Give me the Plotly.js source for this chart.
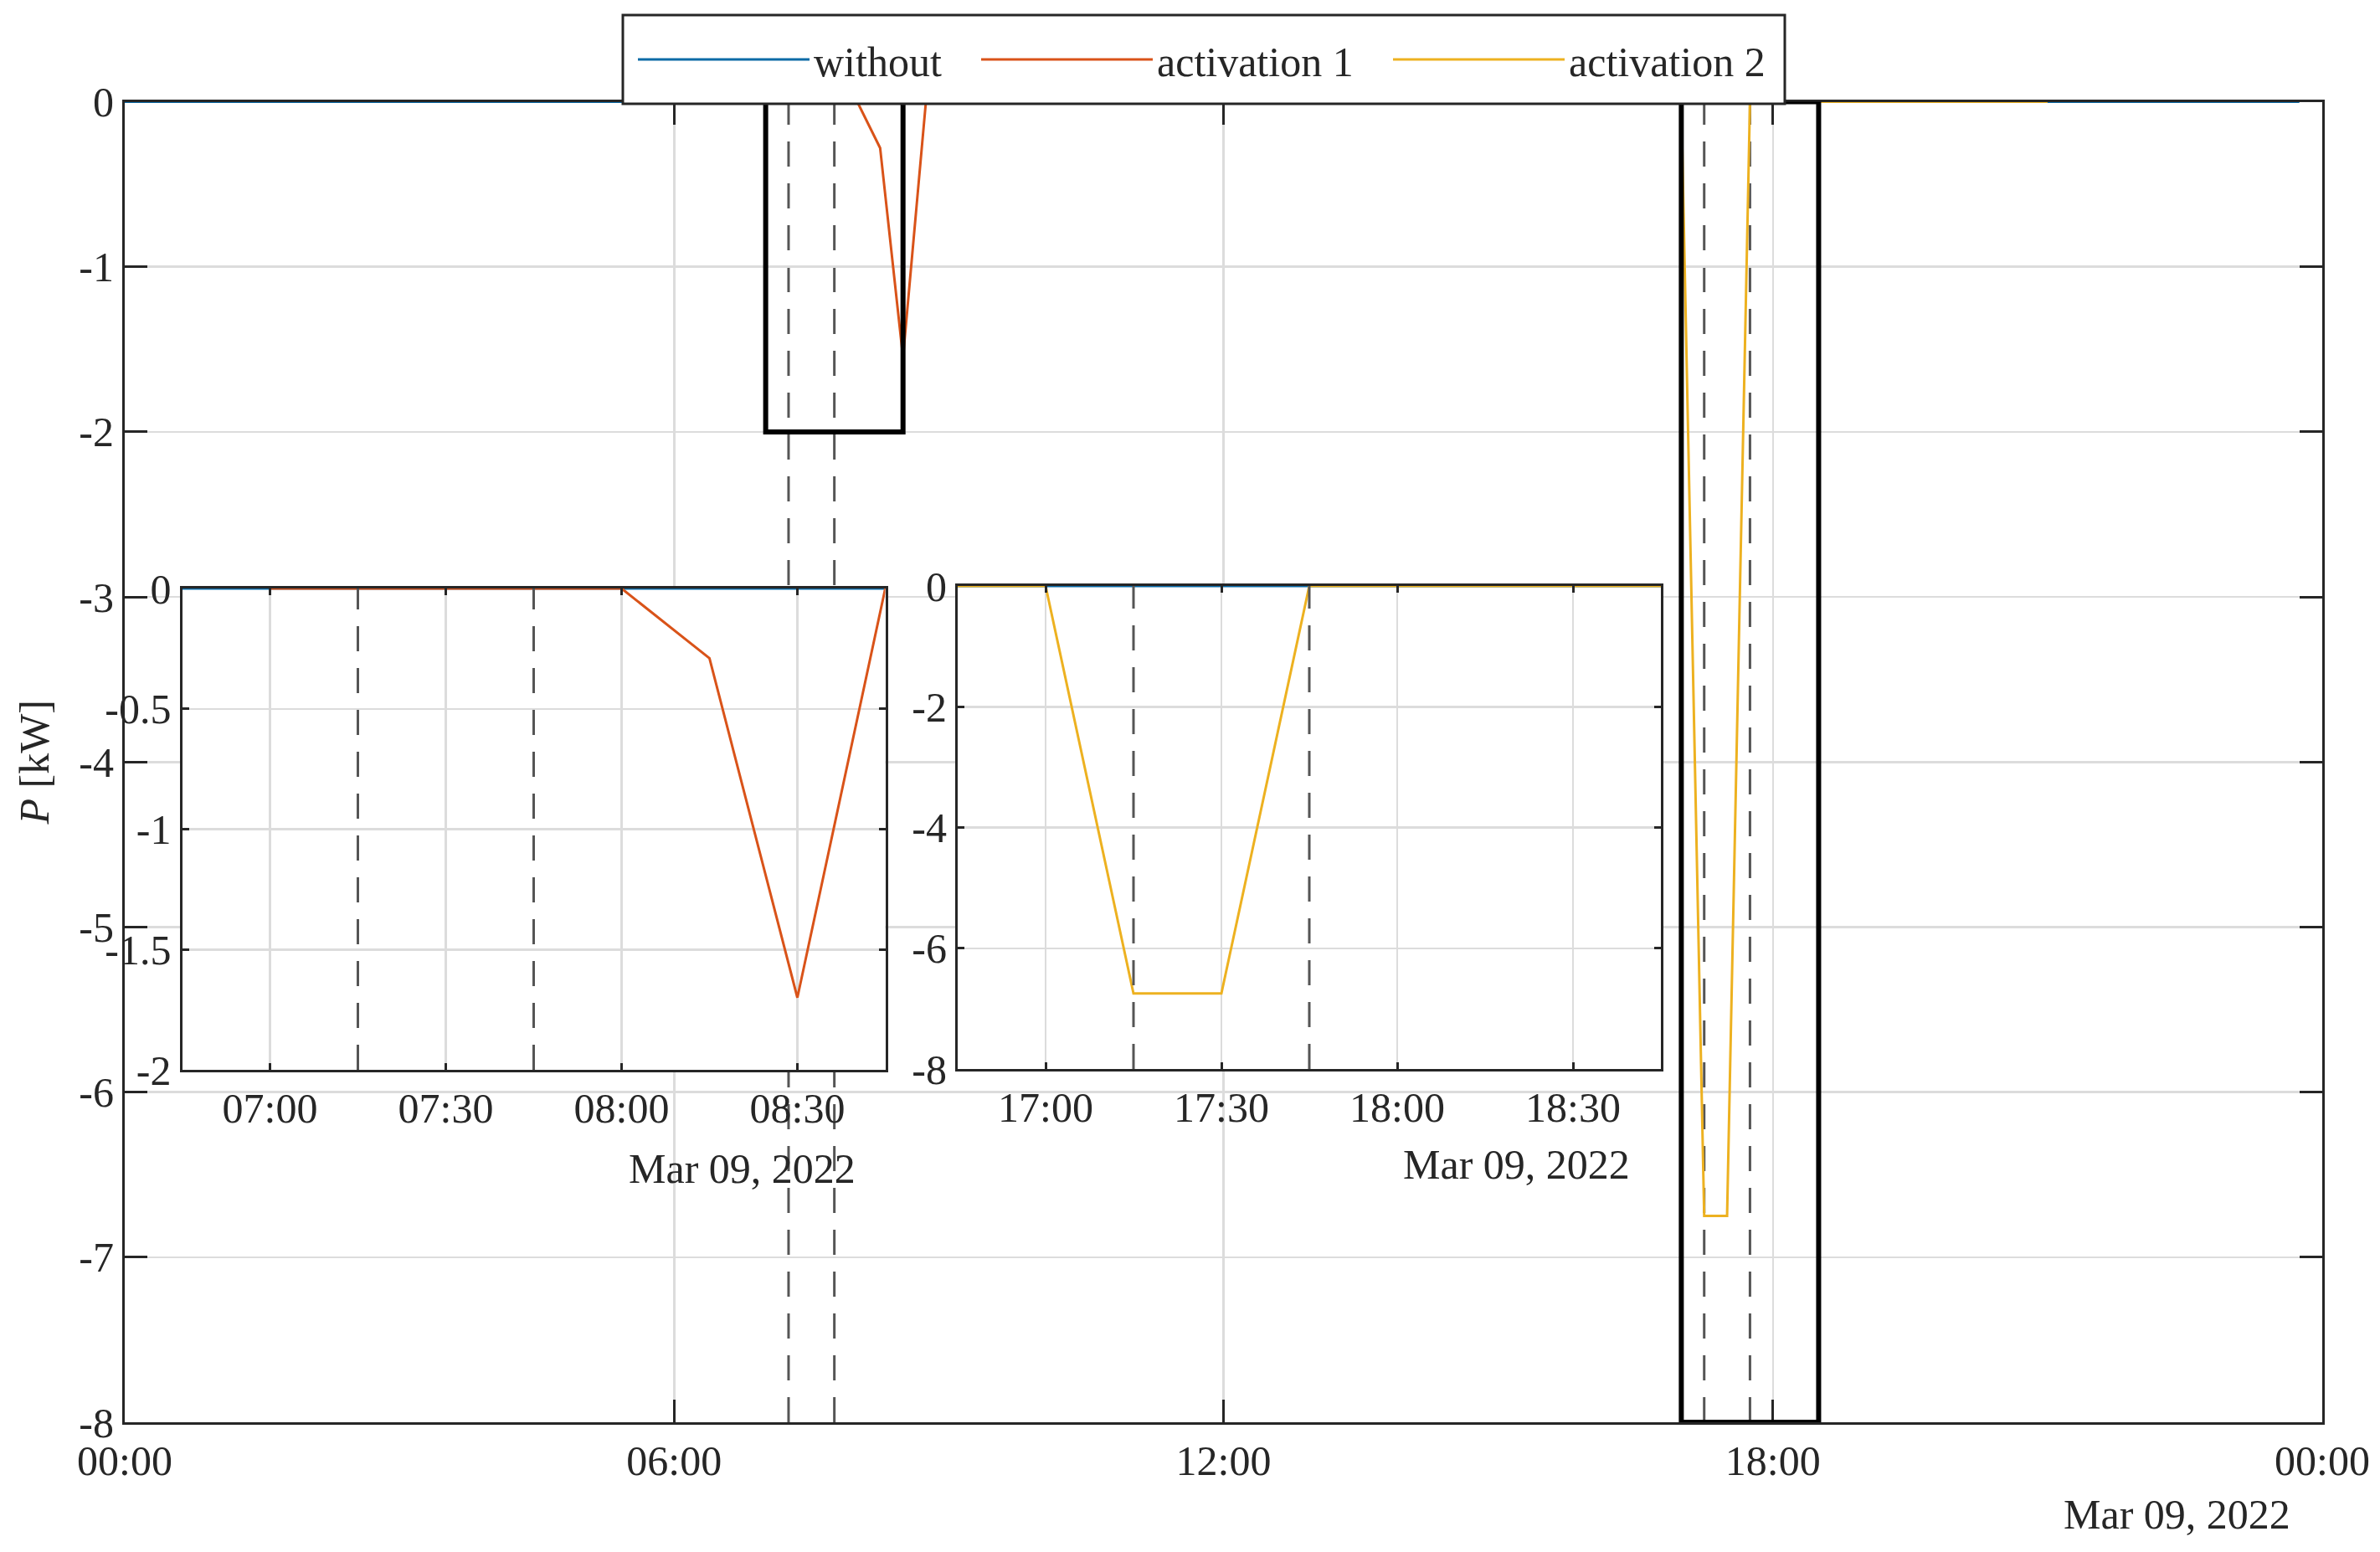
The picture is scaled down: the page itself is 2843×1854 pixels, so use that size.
<!DOCTYPE html>
<html><head><meta charset="utf-8">
<script src="https://cdn.plot.ly/plotly-3.0.1.min.js"></script>
<style>html,body{margin:0;padding:0;background:#fff}</style>
</head><body><div id="chart" style="width:2843px;height:1854px"></div>
<script>
// ---------------- data ----------------
const withoutTimes = ['2022-03-09 00:00', '2022-03-09 23:45'];
const withoutValues = [0, 0];

const act1Times = ['2022-03-09 07:00','2022-03-09 07:15','2022-03-09 07:30','2022-03-09 07:45',
                   '2022-03-09 08:00','2022-03-09 08:15','2022-03-09 08:30','2022-03-09 08:45','2022-03-09 09:00'];
const act1Main = [0, 0, 0, 0, 0, -0.28, -1.55, 0, 0];
const act1Zoom = [0, 0, 0, 0, 0, -0.29, -1.70, 0, 0];

const act2Times = ['2022-03-09 16:30','2022-03-09 16:45','2022-03-09 17:00','2022-03-09 17:15',
                   '2022-03-09 17:30','2022-03-09 17:45','2022-03-09 18:00','2022-03-09 21:00'];
const act2Values = [0, 0, 0, -6.75, -6.75, 0, 0, 0];

const seriesNames = ['without', 'activation 1', 'activation 2'];

const mainXRange = ['2022-03-09 00:00', '2022-03-10 00:00'];
const mainXTicks = ['2022-03-09 00:00','2022-03-09 06:00','2022-03-09 12:00','2022-03-09 18:00','2022-03-10 00:00'];
const mainXLabels = ['00:00','06:00','12:00','18:00','00:00'];
const mainYTicks = [0, -1, -2, -3, -4, -5, -6, -7, -8];
const mainYLabels = ['0','-1','-2','-3','-4','-5','-6','-7','-8'];

const zoom1XRange = ['2022-03-09 06:45', '2022-03-09 08:45'];
const zoom1XTicks = ['2022-03-09 07:00','2022-03-09 07:30','2022-03-09 08:00','2022-03-09 08:30'];
const zoom1XLabels = ['07:00','07:30','08:00','08:30'];
const zoom1YTicks = [0, -0.5, -1, -1.5, -2];
const zoom1YLabels = ['0','-0.5','-1','-1.5','-2'];

const zoom2XRange = ['2022-03-09 16:45', '2022-03-09 18:45'];
const zoom2XTicks = ['2022-03-09 17:00','2022-03-09 17:30','2022-03-09 18:00','2022-03-09 18:30'];
const zoom2XLabels = ['17:00','17:30','18:00','18:30'];
const zoom2YTicks = [0, -2, -4, -6, -8];
const zoom2YLabels = ['0','-2','-4','-6','-8'];

const act1Window = ['2022-03-09 07:15', '2022-03-09 07:45'];
const act2Window = ['2022-03-09 17:15', '2022-03-09 17:45'];
const zoomBox1 = {x: ['2022-03-09 07:00', '2022-03-09 08:30'], y: [-2, 0]};
const zoomBox2 = {x: ['2022-03-09 17:00', '2022-03-09 18:30'], y: [-8, 0]};
const dateLabel = 'Mar 09, 2022';

// ---------------- style ----------------
const W = 2843, H = 1854;
const FONT = 'Liberation Serif, Times New Roman, serif';
const INK = '#262626';
const GRID = '#dcdcdc';
const colors = ['#0a6aa6', '#D95319', '#EDB120'];
const legendWidths = [190, 272, 240];
const fx = v => v / W;
const fy = v => 1 - v / H;

const mainBox = {l: 149, r: 2774, t: 121.5, b: 1699};
const in1Box = {l: 217.5, r: 1057.5, t: 703, b: 1278};
const in2Box = {l: 1144, r: 1984, t: 700, b: 1277};
const legendBox = {l: 744, r: 2132, t: 18, b: 124};

function axisCommon(ticklen) {
  return {
    showline: true, linewidth: 3, linecolor: INK, mirror: 'ticks',
    ticks: 'inside', ticklen: ticklen, tickwidth: 3, tickcolor: INK,
    showgrid: true, gridcolor: GRID, gridwidth: 2.5, zeroline: false,
    tickfont: {family: FONT, size: 50, color: INK}, fixedrange: true
  };
}

const lw = 3;
const traces = [
  {x: withoutTimes, y: withoutValues, name: seriesNames[0], legendwidth: legendWidths[0], type: 'scatter', mode: 'lines',
   line: {color: colors[0], width: lw}, xaxis: 'x', yaxis: 'y'},
  {x: act1Times, y: act1Main, name: seriesNames[1], legendwidth: legendWidths[1], type: 'scatter', mode: 'lines',
   line: {color: colors[1], width: lw}, xaxis: 'x', yaxis: 'y'},
  {x: act2Times, y: act2Values, name: seriesNames[2], legendwidth: legendWidths[2], type: 'scatter', mode: 'lines',
   line: {color: colors[2], width: lw}, xaxis: 'x', yaxis: 'y'},
  // inset 1
  {x: withoutTimes, y: withoutValues, name: seriesNames[0], showlegend: false, type: 'scatter', mode: 'lines',
   line: {color: colors[0], width: lw}, xaxis: 'x2', yaxis: 'y2'},
  {x: act1Times, y: act1Zoom, name: seriesNames[1], showlegend: false, type: 'scatter', mode: 'lines',
   line: {color: colors[1], width: lw}, xaxis: 'x2', yaxis: 'y2'},
  // inset 2
  {x: withoutTimes, y: withoutValues, name: seriesNames[0], showlegend: false, type: 'scatter', mode: 'lines',
   line: {color: colors[0], width: lw}, xaxis: 'x3', yaxis: 'y3'},
  {x: act2Times, y: act2Values, name: seriesNames[2], showlegend: false, type: 'scatter', mode: 'lines',
   line: {color: colors[2], width: lw}, xaxis: 'x3', yaxis: 'y3'}
];

const dashStyle = {color: '#555555', width: 3, dash: '30px,20px'};
const shapes = [];
act1Window.concat(act2Window).forEach(t => {
  shapes.push({type: 'line', xref: 'x', yref: 'y', x0: t, x1: t, y0: -8, y1: 0, line: dashStyle, layer: 'below'});
});
act1Window.forEach(t => {
  shapes.push({type: 'line', xref: 'x2', yref: 'y2', x0: t, x1: t, y0: -2, y1: 0, line: dashStyle});
});
act2Window.forEach(t => {
  shapes.push({type: 'line', xref: 'x3', yref: 'y3', x0: t, x1: t, y0: -8, y1: 0, line: dashStyle});
});
[zoomBox1, zoomBox2].forEach(bx => {
  shapes.push({type: 'rect', xref: 'x', yref: 'y', x0: bx.x[0], x1: bx.x[1], y0: bx.y[0], y1: bx.y[1],
               line: {color: '#000', width: 6}, fillcolor: 'rgba(0,0,0,0)'});
});
// legend frame
shapes.push({type: 'rect', xref: 'paper', yref: 'paper', x0: fx(legendBox.l), x1: fx(legendBox.r),
             y0: fy(legendBox.b), y1: fy(legendBox.t), line: {color: INK, width: 3}, fillcolor: '#fff'});

const layout = {
  width: W, height: H,
  margin: {l: 0, r: 0, t: 0, b: 0},
  paper_bgcolor: '#fff', plot_bgcolor: '#fff',
  font: {family: FONT, size: 50, color: INK},
  showlegend: true,
  legend: {orientation: 'h', x: fx(757), xanchor: 'left', y: fy(71), yanchor: 'middle',
           borderwidth: 0, bgcolor: 'rgba(0,0,0,0)',
           font: {family: FONT, size: 50, color: INK}, itemwidth: 205},
  xaxis: Object.assign(axisCommon(27), {type: 'date', range: mainXRange, domain: [fx(mainBox.l), fx(mainBox.r)],
          tickvals: mainXTicks, ticktext: mainXLabels, anchor: 'y'}),
  yaxis: Object.assign(axisCommon(27), {range: [-8, 0], domain: [fy(mainBox.b), fy(mainBox.t)],
          tickvals: mainYTicks, ticktext: mainYLabels, anchor: 'x',
          title: {text: '<i>P</i> [kW]', font: {family: FONT, size: 50, color: INK}, standoff: 20}}),
  xaxis2: Object.assign(axisCommon(8), {type: 'date', range: zoom1XRange, domain: [fx(in1Box.l), fx(in1Box.r)],
          tickvals: zoom1XTicks, ticktext: zoom1XLabels, anchor: 'y2'}),
  yaxis2: Object.assign(axisCommon(8), {range: [-2, 0], domain: [fy(in1Box.b), fy(in1Box.t)],
          tickvals: zoom1YTicks, ticktext: zoom1YLabels, anchor: 'x2'}),
  xaxis3: Object.assign(axisCommon(8), {type: 'date', range: zoom2XRange, domain: [fx(in2Box.l), fx(in2Box.r)],
          tickvals: zoom2XTicks, ticktext: zoom2XLabels, anchor: 'y3'}),
  yaxis3: Object.assign(axisCommon(8), {range: [-8, 0], domain: [fy(in2Box.b), fy(in2Box.t)],
          tickvals: zoom2YTicks, ticktext: zoom2YLabels, anchor: 'x3'}),
  shapes: shapes,
  annotations: [
    {xref: 'paper', yref: 'paper', x: fx(2738), y: fy(1809), xanchor: 'right', yanchor: 'middle',
     text: dateLabel, showarrow: false, font: {family: FONT, size: 50, color: INK}},
    {xref: 'paper', yref: 'paper', x: fx(1024), y: fy(1396), xanchor: 'right', yanchor: 'middle',
     text: dateLabel, showarrow: false, font: {family: FONT, size: 50, color: INK}},
    {xref: 'paper', yref: 'paper', x: fx(1949), y: fy(1391), xanchor: 'right', yanchor: 'middle',
     text: dateLabel, showarrow: false, font: {family: FONT, size: 50, color: INK}}
  ]
};

Plotly.newPlot('chart', traces, layout, {displayModeBar: false, staticPlot: true});
</script>
</body></html>
